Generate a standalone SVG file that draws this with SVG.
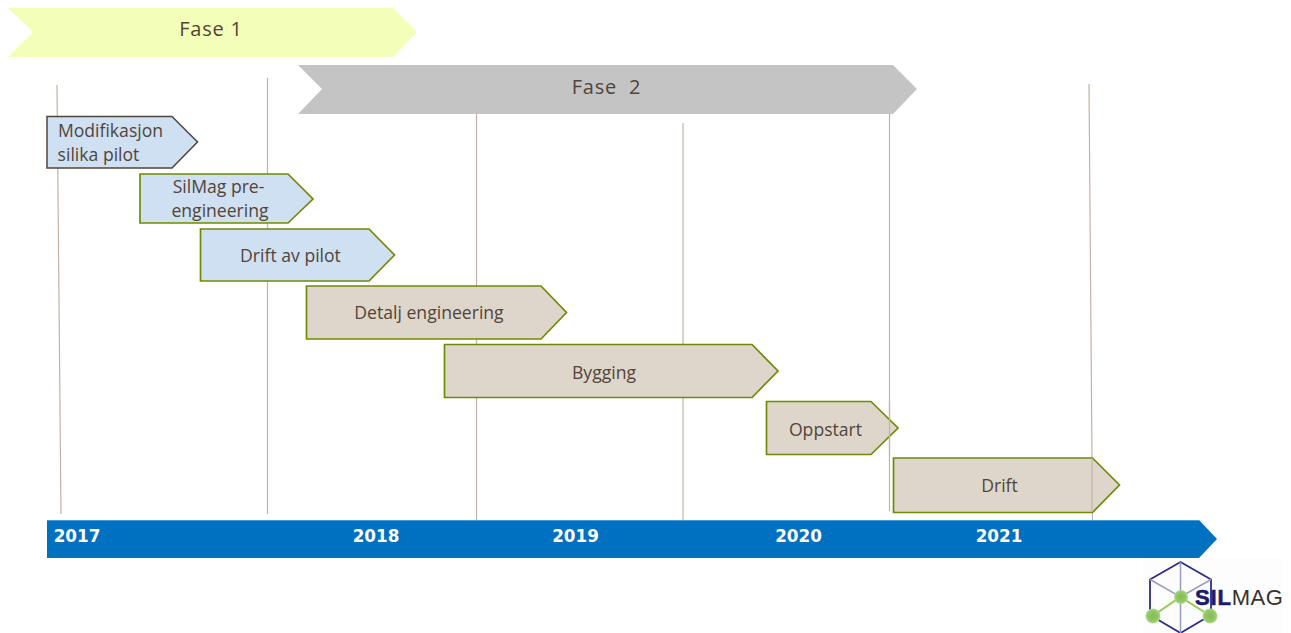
<svg xmlns="http://www.w3.org/2000/svg" width="1291" height="633" viewBox="0 0 1291 633">
<style>
text{font-family:"Open Sans","Noto Sans","Liberation Sans",sans-serif;fill:#51443a;text-anchor:middle}
.t{font-size:17.6px}
.f{font-size:20px;letter-spacing:.8px}
.y{font-family:"DejaVu Sans","Liberation Sans",sans-serif;font-size:16.800px;font-weight:700;fill:#fff}
.g{stroke:#6f8a06;stroke-width:1.700}
.b{fill:#cfe0f2}
.k{fill:#dfd6cb}
.v{stroke:#c2b2a4;stroke-width:1.200;fill:none}
</style>
<defs>
<radialGradient id="ball"><stop offset="0" stop-color="#86bc56"/><stop offset=".7" stop-color="#92c866"/><stop offset="1" stop-color="#b4dc98"/></radialGradient>
</defs>
<g id="gridlines" class="connectors">
<path class="v" d="M57 85L61 514"/>
<path class="v" d="M267.500 78V514"/>
<path class="v" d="M476.500 114V520"/>
<path class="v" d="M683 123V520"/>
<path class="v" d="M889.500 114V511"/>
<path class="v" d="M1089 84L1092.500 521"/>
</g>
<g id="fase1"><polygon points="8,8 393,8 417,32 393,57 8,57 33,32" fill="#f3ffb8"/><text class="f" x="211" y="36">Fase 1</text></g>
<g id="fase2"><polygon points="298,65 893,65 917,89 893,114 298,114 322,89" fill="#c4c4c4"/><text class="f" x="606.500" y="94" xml:space="preserve">Fase  2</text></g>
<g id="modifikasjon"><polygon points="47,116.500 172,116.500 197.500,142 172,168 47,168" class="b" stroke="#51443a" stroke-width="1.500"/><text class="t" x="110.500" y="137">Modifikasjon</text><text class="t" x="98.500" y="161">silika pilot</text></g>
<g id="pre-engineering"><polygon points="140,174 288,174 313,199 288,223 140,223" class="b g"/><text class="t" x="218.500" y="193">SilMag pre-</text><text class="t" x="220" y="217">engineering</text></g>
<g id="drift-pilot"><polygon points="200.500,229 369,229 394.500,255 369,281 200.500,281" class="b g"/><text class="t" x="290.500" y="262">Drift av pilot</text></g>
<g id="detalj"><polygon points="306.500,286 541,286 566.500,312.500 541,339 306.500,339" class="k g"/><text class="t" x="429" y="319">Detalj engineering</text></g>
<g id="bygging"><polygon points="444.500,344.500 752,344.500 778,371 752,397.500 444.500,397.500" class="k g"/><text class="t" x="604" y="378.500">Bygging</text></g>
<g id="oppstart"><polygon points="766.500,401.500 871,401.500 898,428 871,454.500 766.500,454.500" class="k g"/><text class="t" x="825.500" y="435.500">Oppstart</text></g>
<g id="drift"><polygon points="893.500,458 1092.500,458 1119.500,485 1092.500,512.500 893.500,512.500" class="k g"/><text class="t" x="999.500" y="491.500">Drift</text></g>
<path class="v" d="M1092 458V512M889.500 402V455"/>
<g id="timeline"><polygon points="47,520 1199,520 1217,539 1199,558 47,558" fill="#0070c0"/><path d="M47 520.500H1199" stroke="#4a9bd4" stroke-width="1"/>
<text class="y" x="77" y="542">2017</text><text class="y" x="376" y="542">2018</text><text class="y" x="575.500" y="542">2019</text><text class="y" x="798.500" y="542">2020</text><text class="y" x="999" y="542">2021</text></g>
<g id="logo">
<rect x="1143" y="558" width="140" height="75" fill="#fdfdfd"/>
<path d="M1180.500 562L1211 579.500V615L1180.500 633L1150 615V579.500Z" fill="none" stroke="#2e2e86" stroke-width="1.800"/>
<path d="M1180.500 562V597M1150 579.500L1180.500 597L1211 579.500M1180.500 597V633" fill="none" stroke="#9a9ac8" stroke-width="1.500"/>
<path d="M1154 615L1180.500 597L1209 615" fill="none" stroke="#8fcf50" stroke-width="2"/>
<circle cx="1181" cy="597" r="7" fill="url(#ball)"/><circle cx="1153" cy="616" r="7.500" fill="url(#ball)"/><circle cx="1210" cy="616" r="7.500" fill="url(#ball)"/>
<text x="1195" y="605" style="font-family:'Liberation Sans',sans-serif;font-size:22px;font-weight:700;fill:#1c1c6e;stroke:#1c1c6e;stroke-width:.6px;text-anchor:start;letter-spacing:.8px">SIL<tspan style="font-weight:400;fill:#333;stroke:none;letter-spacing:.6px">MAG</tspan></text>
</g>
</svg>
